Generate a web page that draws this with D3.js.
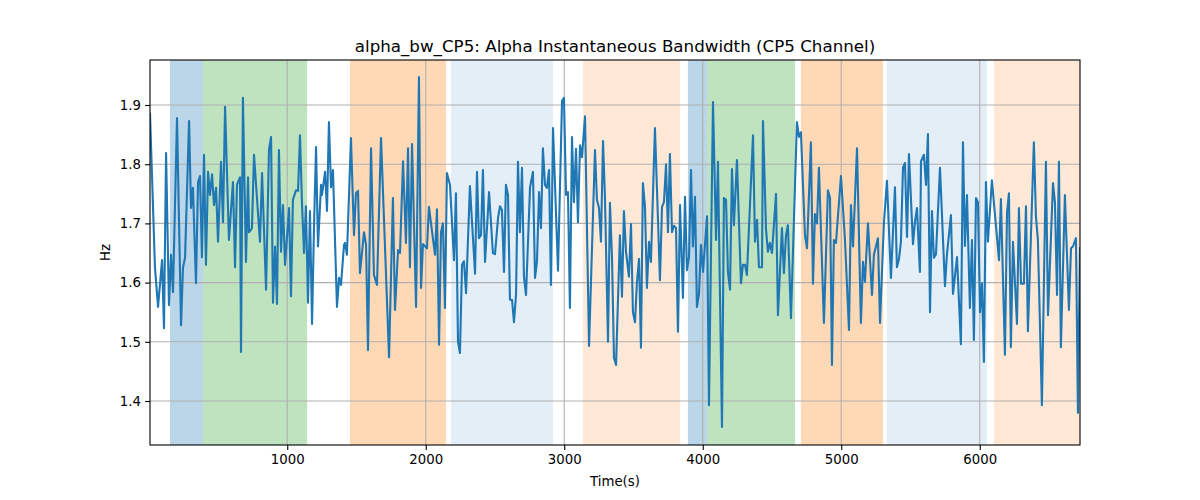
<!DOCTYPE html>
<html>
<head>
<meta charset="utf-8">
<script src="https://cdn.jsdelivr.net/npm/d3@7"></script>
<style>
  html, body { margin: 0; padding: 0; background: #fff; }
  svg text { font-family: "DejaVu Sans", sans-serif; fill: #000; }
</style>
</head>
<body>
<svg id="chart" width="1200" height="500"></svg>
<script>
// ---- data ----
const times = [9,45,67,96,110,125,146,161,175,204,233,247,262,291,305,319,341,356,370,384,399,413,428,442,457,471,486,500,522,536,551,579,608,623,637,659,666,680,702,717,724,745,760,803,818,847,868,883,897,912,926,940,955,969,984,1013,1027,1041,1063,1078,1092,1106,1121,1135,1150,1164,1179,1193,1208,1222,1244,1251,1273,1287,1301,1316,1330,1359,1374,1388,1410,1417,1431,1460,1482,1496,1511,1525,1554,1569,1583,1605,1626,1648,1677,1735,1763,1778,1800,1814,1836,1857,1872,1886,1901,1930,1951,1966,1980,2009,2023,2067,2081,2096,2110,2124,2139,2153,2175,2204,2218,2233,2247,2262,2276,2291,2319,2356,2370,2384,2399,2413,2428,2457,2485,2500,2522,2536,2550,2565,2579,2594,2608,2623,2637,2652,2666,2680,2695,2709,2724,2753,2774,2789,2803,2818,2832,2846,2861,2875,2890,2904,2919,2955,2984,2998,3013,3027,3041,3056,3070,3085,3099,3114,3128,3150,3179,3222,3236,3251,3265,3280,3294,3316,3330,3345,3359,3374,3402,3417,3431,3446,3467,3482,3496,3511,3525,3540,3554,3568,3583,3597,3612,3626,3655,3691,3706,3720,3735,3749,3763,3778,3792,3807,3821,3836,3857,3872,3886,3901,3915,3929,3944,3958,3973,3987,4002,4031,4045,4074,4096,4110,4139,4153,4168,4182,4197,4211,4225,4247,4276,4290,4305,4319,4363,4377,4392,4406,4428,4435,4457,4471,4485,4500,4529,4543,4572,4586,4601,4615,4637,4680,4695,4709,4738,4753,4781,4796,4810,4825,4839,4875,4904,4919,4933,4947,4962,4998,5027,5056,5070,5085,5114,5142,5157,5171,5193,5222,5236,5265,5280,5308,5330,5359,5388,5402,5417,5431,5446,5460,5475,5489,5518,5532,5547,5568,5576,5597,5612,5626,5641,5655,5669,5684,5713,5749,5763,5792,5807,5836,5864,5879,5893,5908,5929,5944,5958,5973,5987,6002,6016,6030,6045,6059,6088,6139,6153,6182,6197,6211,6225,6240,6269,6283,6298,6319,6334,6348,6391,6406,6420,6449,6478,6493,6529,6543,6558,6572,6586,6615,6644,6659,6673,6695,6709,6724];
const hzValues = [1.885,1.625,1.559,1.638,1.523,1.819,1.562,1.647,1.584,1.878,1.528,1.625,1.642,1.873,1.726,1.760,1.599,1.770,1.780,1.643,1.816,1.630,1.787,1.748,1.783,1.731,1.760,1.669,1.804,1.702,1.897,1.672,1.770,1.626,1.765,1.778,1.483,1.912,1.635,1.778,1.685,1.692,1.816,1.669,1.785,1.588,1.824,1.846,1.566,1.661,1.564,1.824,1.652,1.731,1.630,1.726,1.577,1.740,1.756,1.755,1.849,1.736,1.650,1.729,1.566,1.721,1.530,1.692,1.829,1.661,1.765,1.748,1.787,1.721,1.871,1.761,1.790,1.559,1.608,1.596,1.664,1.667,1.647,1.844,1.680,1.751,1.755,1.616,1.685,1.664,1.486,1.827,1.613,1.596,1.844,1.474,1.743,1.554,1.655,1.650,1.805,1.667,1.827,1.626,1.834,1.559,1.947,1.591,1.665,1.658,1.728,1.647,1.724,1.495,1.685,1.700,1.557,1.785,1.765,1.638,1.751,1.500,1.481,1.630,1.636,1.582,1.763,1.615,1.787,1.675,1.680,1.790,1.635,1.753,1.650,1.648,1.709,1.729,1.723,1.618,1.765,1.748,1.571,1.571,1.533,1.580,1.804,1.685,1.794,1.610,1.579,1.761,1.787,1.608,1.635,1.753,1.692,1.827,1.765,1.760,1.790,1.596,1.861,1.620,1.907,1.912,1.748,1.753,1.557,1.846,1.736,1.826,1.702,1.832,1.812,1.881,1.493,1.824,1.740,1.726,1.669,1.839,1.743,1.500,1.735,1.642,1.473,1.461,1.680,1.576,1.721,1.652,1.610,1.699,1.550,1.533,1.601,1.640,1.490,1.768,1.728,1.591,1.669,1.635,1.861,1.604,1.728,1.736,1.800,1.685,1.817,1.685,1.696,1.692,1.517,1.731,1.574,1.745,1.621,1.643,1.790,1.661,1.745,1.559,1.581,1.664,1.618,1.712,1.393,1.905,1.672,1.804,1.356,1.743,1.740,1.618,1.588,1.792,1.697,1.807,1.599,1.630,1.630,1.613,1.849,1.669,1.706,1.626,1.626,1.873,1.689,1.652,1.667,1.650,1.750,1.545,1.692,1.616,1.680,1.697,1.540,1.871,1.846,1.854,1.680,1.658,1.837,1.598,1.716,1.700,1.794,1.532,1.756,1.743,1.461,1.672,1.667,1.780,1.672,1.520,1.731,1.661,1.827,1.532,1.635,1.601,1.700,1.579,1.647,1.675,1.532,1.700,1.772,1.608,1.761,1.626,1.640,1.669,1.794,1.802,1.677,1.817,1.665,1.702,1.726,1.618,1.805,1.816,1.765,1.851,1.550,1.721,1.642,1.648,1.794,1.594,1.647,1.714,1.581,1.643,1.496,1.837,1.662,1.748,1.557,1.672,1.503,1.743,1.736,1.550,1.599,1.466,1.770,1.669,1.773,1.638,1.741,1.478,1.718,1.751,1.491,1.669,1.530,1.726,1.598,1.598,1.729,1.518,1.837,1.711,1.672,1.393,1.804,1.545,1.768,1.736,1.579,1.804,1.491,1.748,1.554,1.658,1.661,1.675,1.380,1.658];

const spanStart = [153, 392, 1453, 2182, 3135, 3893, 4031, 4709, 5330, 6103];
const spanEnd   = [392, 1143, 2146, 2919, 3836, 4031, 4666, 5301, 6052, 6724];
const spanKind  = ["blue", "green", "orange", "lightblue", "lightorange", "blue", "green", "orange", "lightblue", "lightorange"];

const xTicks = [1000, 2000, 3000, 4000, 5000, 6000];
const yTicks = [1.4, 1.5, 1.6, 1.7, 1.8, 1.9];
const xDomain = [9, 6724];
const yDomain = [1.3257, 1.976];

const titleText = "alpha_bw_CP5: Alpha Instantaneous Bandwidth (CP5 Channel)";
const xLabel = "Time(s)";
const yLabel = "Hz";

// ---- styles ----
const spanStyle = {
  blue:        { fill: "#1f77b4", opacity: 0.3 },
  green:       { fill: "#2ca02c", opacity: 0.3 },
  orange:      { fill: "#ff7f0e", opacity: 0.3 },
  lightblue:   { fill: "#1f77b4", opacity: 0.12 },
  lightorange: { fill: "#ff7f0e", opacity: 0.17 }
};

const margin = { left: 150, right: 120, top: 60, bottom: 55 };
const W = 1200, H = 500;
const iw = W - margin.left - margin.right;
const ih = H - margin.top - margin.bottom;

const svg = d3.select("#chart");
const g = svg.append("g").attr("transform", `translate(${margin.left},${margin.top})`);

const x = d3.scaleLinear().domain(xDomain).range([0, iw]);
const y = d3.scaleLinear().domain(yDomain).range([ih, 0]);

svg.append("defs").append("clipPath").attr("id", "clip")
  .append("rect").attr("width", iw).attr("height", ih);

// spans
const spans = spanStart.map((s, i) => ({ s, e: spanEnd[i], k: spanKind[i] }));
g.append("g").attr("clip-path", "url(#clip)").selectAll("rect").data(spans).join("rect")
  .attr("x", d => x(d.s))
  .attr("width", d => x(d.e) - x(d.s))
  .attr("y", 0).attr("height", ih)
  .attr("fill", d => spanStyle[d.k].fill)
  .attr("fill-opacity", d => spanStyle[d.k].opacity);

// grid
const grid = g.append("g");
grid.selectAll("line.gx").data(xTicks).join("line")
  .attr("x1", d => x(d)).attr("x2", d => x(d))
  .attr("y1", 0).attr("y2", ih)
  .attr("stroke", "#b0b0b0").attr("stroke-width", 1.1);
grid.selectAll("line.gy").data(yTicks).join("line")
  .attr("y1", d => y(d)).attr("y2", d => y(d))
  .attr("x1", 0).attr("x2", iw)
  .attr("stroke", "#b0b0b0").attr("stroke-width", 1.1);

// line
const pts = times.map((t, i) => [t, hzValues[i]]);
g.append("path").datum(pts)
  .attr("clip-path", "url(#clip)")
  .attr("fill", "none")
  .attr("stroke", "#1f77b4")
  .attr("stroke-width", 2.1)
  .attr("stroke-linejoin", "round")
  .attr("stroke-linecap", "square")
  .attr("d", d3.line().x(d => x(d[0])).y(d => y(d[1])));

// axes
const xAxis = g.append("g").attr("transform", `translate(0,${ih})`)
  .call(d3.axisBottom(x).tickValues(xTicks).tickFormat(d3.format("d")).tickSize(4.9).tickPadding(4.2));
const yAxis = g.append("g")
  .call(d3.axisLeft(y).tickValues(yTicks).tickFormat(d3.format(".1f")).tickSize(4.9).tickPadding(4.2));
[xAxis, yAxis].forEach(a => {
  a.select(".domain").remove();
  a.selectAll(".tick line").attr("stroke", "#000").attr("stroke-width", 1.1);
  a.selectAll(".tick text").attr("font-size", "13.3px").attr("font-family", "DejaVu Sans, sans-serif").attr("fill", "#000");
});

// spines
g.append("rect").attr("width", iw).attr("height", ih)
  .attr("fill", "none").attr("stroke", "#000").attr("stroke-width", 1.1);

// title and labels
svg.append("text").attr("x", margin.left + iw / 2).attr("y", 52)
  .attr("text-anchor", "middle").attr("font-size", "16.7px").text(titleText);
svg.append("text").attr("x", margin.left + iw / 2).attr("y", 486)
  .attr("text-anchor", "middle").attr("font-size", "13.3px").text(xLabel);
svg.append("text").attr("transform", `translate(110,${margin.top + ih / 2}) rotate(-90)`)
  .attr("text-anchor", "middle").attr("font-size", "13.3px").text(yLabel);
</script>
</body>
</html>
